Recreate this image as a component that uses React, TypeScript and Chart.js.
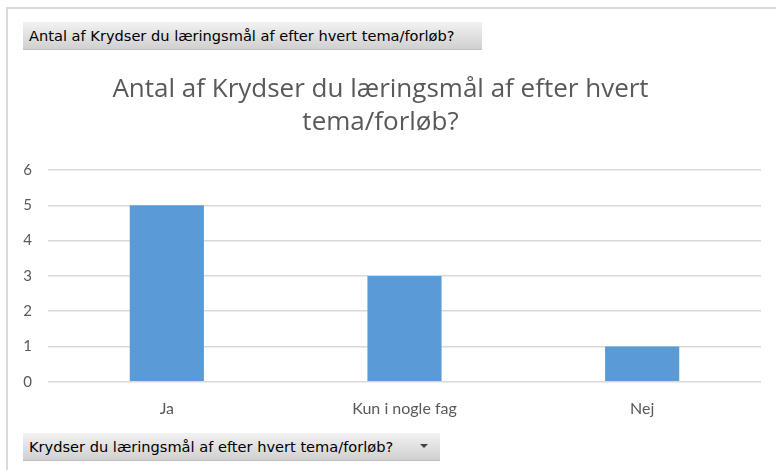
import React, { useEffect, useRef } from "react";
import { Chart, registerables } from "chart.js";

Chart.register(...registerables);

const categories = ["Ja", "Kun i nogle fag", "Nej"];
const counts = [5, 3, 1];
const chartTitle = ["Antal af Krydser du læringsmål af efter hvert", "tema/forløb?"];
const valueButtonLabel = "Antal af Krydser du læringsmål af efter hvert tema/forløb?";
const axisButtonLabel = "Krydser du læringsmål af efter hvert tema/forløb?";

const FONT = "'Open Sans', Lato, sans-serif";
const TICKFONT = "Lato, 'Open Sans', sans-serif";

export default function App() {
  const ref = useRef<HTMLCanvasElement | null>(null);

  useEffect(() => {
    if (!ref.current) return;
    const chart = new Chart(ref.current, {
      type: "bar",
      data: {
        labels: categories,
        datasets: [
          {
            label: "Antal af Krydser",
            data: counts,
            backgroundColor: "#5b9bd5",
            borderWidth: 0,
            barPercentage: 0.312,
            categoryPercentage: 1,
          },
        ],
      },
      options: {
        responsive: false,
        animation: false,
        layout: { padding: { left: 0, right: 15, top: 0, bottom: 35 } },
        plugins: {
          legend: { display: false },
          tooltip: { enabled: false },
          title: {
            display: true,
            text: chartTitle,
            color: "#595959",
            font: { family: FONT, size: 26, weight: "normal", lineHeight: 1.27 },
            padding: { top: 73, bottom: 31 },
          },
        },
        scales: {
          x: {
            grid: { display: false, drawTicks: false },
            border: { display: false },
            ticks: {
              color: "#595959",
              font: { family: TICKFONT, size: 16 },
              padding: 17,
            },
          },
          y: {
            min: 0,
            max: 6,
            afterFit: (scale: any) => {
              scale.width = 48;
            },
            grid: { color: "#d9d9d9", lineWidth: 1.5, drawTicks: false },
            border: { display: false },
            ticks: {
              stepSize: 1,
              color: "#595959",
              font: { family: TICKFONT, size: 15 },
              padding: 16,
            },
          },
        },
      },
    });
    return () => chart.destroy();
  }, []);

  const btn: React.CSSProperties = {
    position: "absolute",
    left: 23,
    height: 28,
    boxSizing: "border-box",
    paddingLeft: 6,
    display: "flex",
    alignItems: "center",
    background: "linear-gradient(#f2f2f2, #d0d0d0)",
    borderBottom: "1px solid #c0c0c0",
    fontFamily: "'DejaVu Sans', sans-serif",
    fontSize: 14.6,
    color: "#000",
    whiteSpace: "nowrap",
  };

  return (
    <div style={{ position: "fixed", left: 0, top: 0, width: 776, height: 470, background: "#fff", overflow: "hidden" }}>
      <div style={{ position: "absolute", left: 6, top: 7, right: 0, height: 2, background: "#d9d9d9" }} />
      <div style={{ position: "absolute", left: 6, top: 7, bottom: 0, width: 2, background: "#d9d9d9" }} />
      <canvas ref={ref} width={776} height={470} style={{ position: "absolute", left: 0, top: 0 }} />
      <div style={{ ...btn, top: 22, width: 459 }}>{valueButtonLabel}</div>
      <div style={{ ...btn, top: 433, width: 417 }}>
        {axisButtonLabel}
        <span style={{ position: "absolute", right: 12, top: 11, width: 0, height: 0, borderLeft: "4px solid transparent", borderRight: "4px solid transparent", borderTop: "4px solid #404040" }} />
      </div>
    </div>
  );
}
